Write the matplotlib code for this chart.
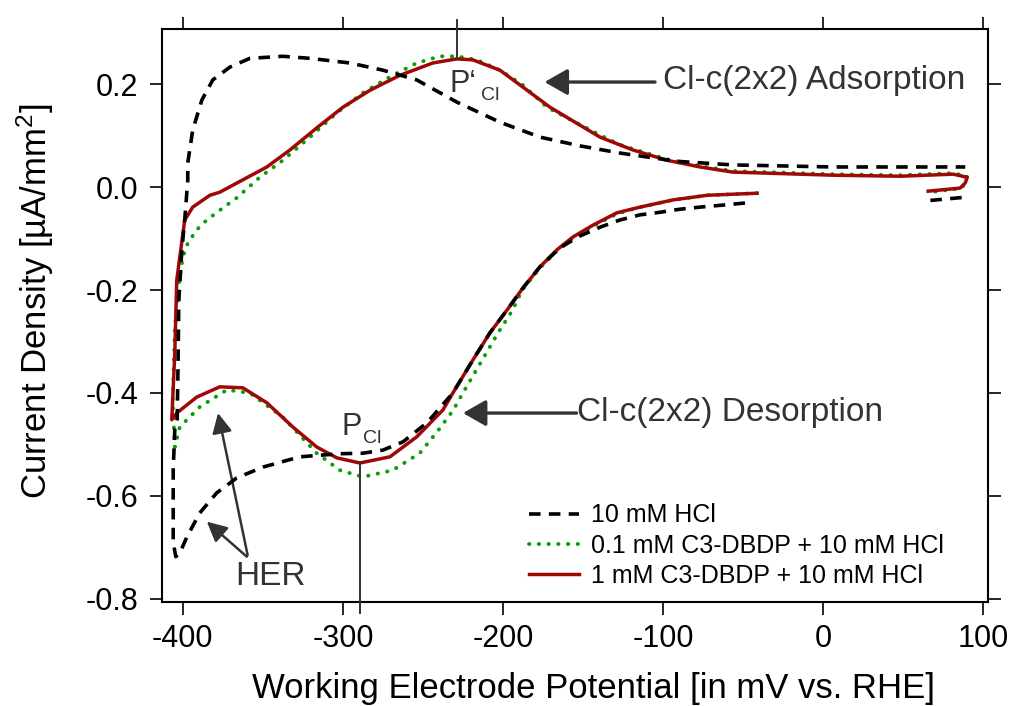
import numpy as np
import matplotlib.pyplot as plt

plt.rcParams['font.family'] = ['Liberation Sans', 'DejaVu Sans']
plt.rcParams['axes.unicode_minus'] = False
plt.rcParams['mathtext.fontset'] = 'custom'
plt.rcParams['mathtext.rm'] = 'Liberation Sans'
plt.rcParams['mathtext.default'] = 'regular'

# --- data read off the CVs (mV vs RHE, uA/mm^2) ---
# 10 mM HCl, nan splits off the short piece near the positive turn
hcl_mv = [67, 88, np.nan,
          -48.8, -62.5, -76.9, -89.4, -101.9, -114.4, -126.9, -139.4, -151.9, -164.4,
          -176.9, -187.5, -197.5, -208.1, -218.8, -231.3, -247.5, -262.5, -275, -287.5,
          -301.9, -326.9, -350, -366.3, -378.8, -389.4, -397.5, -401.9, -404.4, -406,
          -406, -405, -403.5, -403, -402.5, -400.6, -398.8, -396.9, -396.9, -393.8,
          -388.1, -381.3, -370.6, -358.1, -337.5, -320.6, -295.6, -275, -253.8, -228.8,
          -201.9, -176.9, -151.9, -126.9, -91.3, -56.3, 6.3, 88.8]
hcl_j = [-0.026, -0.020, np.nan,
         -0.031, -0.035, -0.039, -0.043, -0.049, -0.054, -0.064, -0.078, -0.095, -0.118,
         -0.155, -0.196, -0.239, -0.283, -0.336, -0.400, -0.458, -0.495, -0.511, -0.517,
         -0.518, -0.524, -0.544, -0.565, -0.594, -0.633, -0.680, -0.711, -0.718, -0.69,
         -0.55, -0.47, -0.45, -0.35, -0.22, -0.122, -0.064, 0.014, 0.047, 0.111,
         0.169, 0.208, 0.233, 0.250, 0.254, 0.250, 0.241, 0.227, 0.208, 0.165,
         0.126, 0.097, 0.080, 0.066, 0.050, 0.043, 0.039, 0.039]

# 0.1 mM C3-DBDP + 10 mM HCl
c01_mv = [-41.3, -72.5, -93.8, -114.4, -128.8, -143.8, -156.3, -166.3, -176.9, -188,
          -194, -203, -213, -225, -231, -241, -252, -268.8, -287.5, -301.9, -316.3,
          -337.5, -358.1, -372.5, -389.4, -401.9, -405, -406.3, -405, -403.1, -400,
          -396.9, -391.3, -385, -376.9, -366.3, -351.9, -337.5, -320.6, -303.8, -287.5,
          -270.6, -253.8, -239.4, -228.8, -216.3, -201.9, -187.5, -172.5, -139.4, -126.9,
          -112.5, -97.5, -76.9, -56.3, -35, 6.3, 48.1, 81.3, 90, 86.9, 66.9]
c01_j = [-0.012, -0.016, -0.025, -0.039, -0.052, -0.076, -0.099, -0.124, -0.157, -0.200,
         -0.239, -0.283, -0.336, -0.400, -0.433, -0.475, -0.517, -0.550, -0.563, -0.550, -0.517,
         -0.447, -0.400, -0.394, -0.427, -0.466, -0.505, -0.414, -0.278, -0.200, -0.136,
         -0.109, -0.083, -0.064, -0.045, -0.021, 0.019, 0.052, 0.097, 0.144, 0.183,
         0.214, 0.241, 0.254, 0.254, 0.247, 0.227, 0.198, 0.155, 0.101, 0.082,
         0.068, 0.054, 0.041, 0.031, 0.029, 0.025, 0.023, 0.027, 0.021, -0.002, -0.010]

# 1 mM C3-DBDP + 10 mM HCl
c1_mv = [-41.3, -72.5, -93.8, -114.4, -128.8, -143.8, -156.3, -166.3, -176.9, -187.5,
         -197.5, -208.1, -218.8, -231.3, -237.5, -253.8, -270.6, -289.4, -303.8, -316.3,
         -331.3, -347.5, -362.5, -376.9, -391.3, -403.8, -406.9, -405, -403.8, -398.8,
         -393.8, -383.1, -376.9, -362.5, -347.5, -333.1, -316.3, -300, -283.1, -264.4,
         -243.8, -228.8, -218.8, -201.9, -187.5, -170.6, -139.4, -118.8, -97.5, -76.9,
         -56.3, -35, 6.3, 48.1, 81.3, 90, 88.8, 85.6, 65.6]
c1_j = [-0.012, -0.016, -0.025, -0.039, -0.050, -0.074, -0.097, -0.122, -0.155, -0.196,
        -0.239, -0.283, -0.336, -0.400, -0.433, -0.485, -0.524, -0.536, -0.526, -0.505,
        -0.466, -0.419, -0.390, -0.388, -0.408, -0.439, -0.452, -0.322, -0.181, -0.064,
        -0.039, -0.016, -0.010, 0.014, 0.039, 0.072, 0.115, 0.155, 0.188, 0.217,
        0.241, 0.249, 0.247, 0.227, 0.194, 0.155, 0.097, 0.072, 0.052, 0.039,
        0.029, 0.027, 0.023, 0.021, 0.025, 0.019, 0.008, -0.002, -0.008]

p_cl = -289        # cathodic peak
p_cl_prime = -229  # anodic peak

fig = plt.figure(figsize=(10.16, 7.06), dpi=100)
ax = fig.add_axes([162/1016, 104/706, 826/1016, 573/706])

ax.plot(c01_mv, c01_j, color='#0a9e0a', lw=2.8, ls=(0, (0.1, 2.4)),
        dash_capstyle='round', label='0.1 mM C3-DBDP + 10 mM HCl', zorder=2)
ax.plot(c1_mv, c1_j, color='#a00808', lw=2.5, label='1 mM C3-DBDP + 10 mM HCl', zorder=3)
ax.plot(hcl_mv, hcl_j, color='black', lw=2.6, ls=(0, (3.2, 2.3)),
        label='10 mM HCl', zorder=4)

ax.set_xlim(-413, 103)
ax.set_ylim(-0.806, 0.307)
ax.set_xticks([-400, -300, -200, -100, 0, 100])
ax.set_yticks([-0.8, -0.6, -0.4, -0.2, 0.0, 0.2])
ax.set_yticklabels(['-0.8', '-0.6', '-0.4', '-0.2', '0.0', '0.2'])
ax.tick_params(direction='out', length=9, width=1.2, labelsize=22,
               top=True, right=True, pad=7)
ax.tick_params(axis='y', pad=8)
for s in ax.spines.values():
    s.set_linewidth(1.5)

ax.set_xlabel('Working Electrode Potential [in mV vs. RHE]', fontsize=25)
ax.set_ylabel('Current Density [µA/mm$^2$]', fontsize=25)
ax.xaxis.set_label_coords(0.522, -0.122)
ax.yaxis.set_label_coords(-0.128, 0.525)

# peak markers
gray = '#333333'
ax.plot([p_cl, p_cl], [-0.534, -0.827], color=gray, lw=1.4, clip_on=False, zorder=5)
ax.plot([p_cl_prime, p_cl_prime], [0.249, 0.324], color=gray, lw=1.4, clip_on=False, zorder=5)
ax.text(-301, -0.482, 'P', fontsize=22, color=gray, va='baseline')
ax.text(-287.5, -0.497, 'Cl', fontsize=14, color=gray, va='baseline')
ax.text(-233.5, 0.184, 'P‘', fontsize=22, color=gray, va='baseline')
ax.text(-214, 0.169, 'Cl', fontsize=14, color=gray, va='baseline')

big = dict(arrowstyle='-|>,head_length=0.7,head_width=0.4', mutation_scale=20,
           lw=2.4, color=gray, shrinkA=0, shrinkB=0)
ax.annotate('', xy=(-174, 0.204), xytext=(-105, 0.204), arrowprops=big)
ax.text(-100, 0.206, 'Cl-c(2x2) Adsorption', fontsize=24, color=gray, va='center')
ax.annotate('', xy=(-225, -0.439), xytext=(-154, -0.439), arrowprops=big)
ax.text(-154, -0.437, 'Cl-c(2x2) Desorption', fontsize=24, color=gray, va='center')

small = dict(arrowstyle='-|>,head_length=0.6,head_width=0.3', mutation_scale=20,
             lw=1.8, color=gray, shrinkA=0, shrinkB=0)
ax.annotate('', xy=(-378, -0.439), xytext=(-359.5, -0.715), arrowprops=small)
ax.annotate('', xy=(-385, -0.650), xytext=(-360, -0.718), arrowprops=small)
ax.text(-345.5, -0.757, 'HER', fontsize=24, color=gray, ha='center', va='center')

h, l = ax.get_legend_handles_labels()
order = [2, 0, 1]
ax.legend([h[i] for i in order], [l[i] for i in order], loc='upper left',
          bbox_to_anchor=(0.444, 0.172), frameon=False, fontsize=18,
          handlelength=2.0, handletextpad=0.5, labelspacing=0.25,
          borderpad=0, borderaxespad=0)

fig.savefig('out.png', dpi=100)
